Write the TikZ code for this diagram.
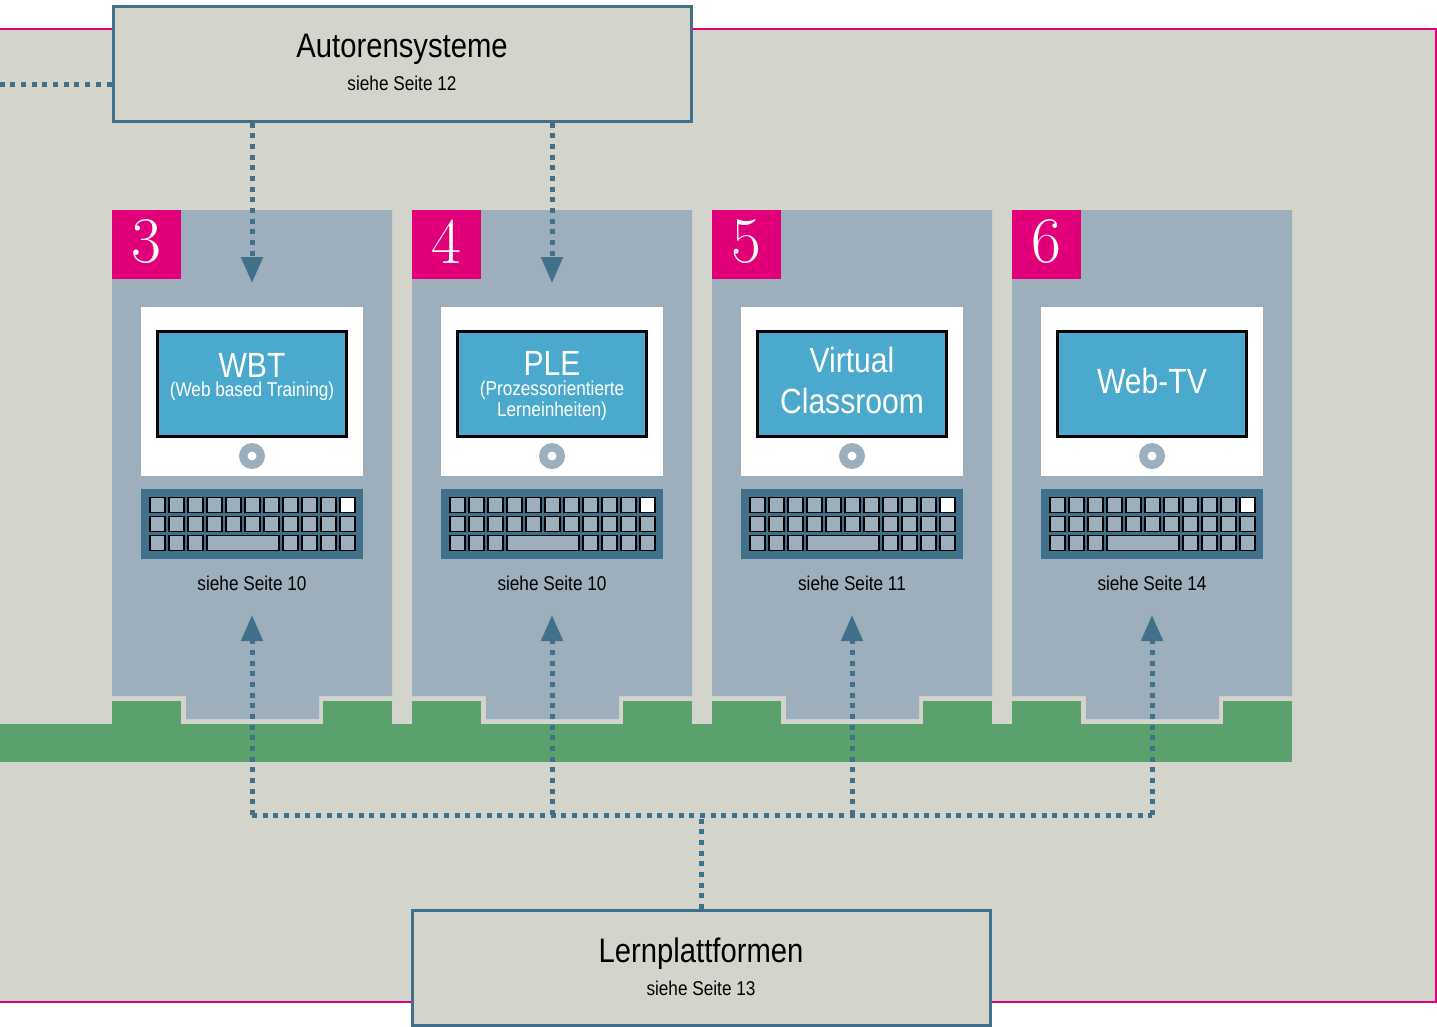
\documentclass[tikz,border=0pt]{standalone}
\usepackage{fontspec}
\setsansfont[FakeStretch=0.86]{Liberation Sans}
\usetikzlibrary{arrows.meta}
\definecolor{bgrey}{HTML}{D3D4CB}
\definecolor{tpink}{HTML}{E2007A}
\definecolor{tblue}{HTML}{41708A}
\definecolor{pgrey}{HTML}{9DAFBD}
\definecolor{scrblue}{HTML}{4AA9CC}
\definecolor{tgreen}{HTML}{5BA16D}
\tikzset{
  bigbox/.style={draw=tblue,line width=3pt,fill=bgrey,minimum width=578pt,minimum height=115pt,inner sep=0pt},
  dotline/.style={draw=tblue,line width=5pt,dash pattern=on 5pt off 5.67pt},
  tip/.style={-{Triangle[width=21pt,length=26pt,color=tblue]}},
  title/.style={font=\sffamily\fontsize{34}{34}\selectfont},
  small/.style={font=\sffamily\fontsize{20}{20}\selectfont},
  scrtitle/.style={font=\sffamily\fontsize{35}{35}\selectfont,text=white,align=center},
  scrsmall/.style={font=\sffamily\fontsize{20}{21}\selectfont,text=white,align=center},
  keycap/.style={draw=black,line width=1.5pt,fill=pgrey},
}
\begin{document}
\begin{tikzpicture}[x=1pt,y=-1pt,line cap=butt,line join=miter]
  \useasboundingbox (0,0) rectangle (1437,1026);
  % frame
  \draw [draw=tpink,line width=2.5pt,fill=bgrey] (-5,29) rectangle (1436,1002);
  % green rail
  \fill [tgreen] (0,724) rectangle (1292,762);
  \foreach \n/\x in {3/0,4/300,5/600,6/900} {
    \begin{scope}[xshift=\x pt]
      \fill [pgrey] (112,210)-- (392,210)-- (392,696)-- (319,696)-- (319,719)-- (186,719)-- (186,696)-- (112,696)-- cycle;
      \fill [tgreen] (112,701) rectangle (181,724);
      \fill [tgreen] (323,701) rectangle (392,724);
      % number
      \fill [tpink] (112,210) rectangle (181,279);
      \node [text=white,font=\rmfamily\fontsize{65}{65}\selectfont] (num\n) at (146.5,242) {\n};
      % monitor
      \fill [white] (141,307) rectangle (363,476);
      \draw [draw=black,line width=3pt,fill=scrblue] (157.5,331.5) rectangle (346.5,436.5);
      \fill [pgrey] (252,456) circle (13pt);
      \fill [white] (252,456) circle (4.5pt);
      % keyboard
      \fill [tblue] (141,489) rectangle (363,559);
      \foreach \c in {0,...,10} {
        \draw [keycap] (150+19*\c,497.5) rectangle (165+19*\c,512.5);
        \draw [keycap] (150+19*\c,516.5) rectangle (165+19*\c,531.5);
      }
      \draw [keycap,fill=white] (340,497.5) rectangle (355,512.5);
      \foreach \c in {0,1,2,7,8,9,10} {
        \draw [keycap] (150+19*\c,535.5) rectangle (165+19*\c,550.5);
      }
      \draw [keycap] (207,535.5) rectangle (279,550.5);
      \coordinate (top\n) at (252,283);
      \coordinate (up\n) at (252,615);
      \coordinate (low\n) at (252,815);
    \end{scope}
  }
  % boxes
  \node [bigbox] (autoren) at (402,63.5) {};
  \node [bigbox] (lern) at (701,968) {};
  \node [title] at (402,49) {Autorensysteme};
  \node [small] at (402,83) {siehe Seite 12};
  \node [title] at (701,954) {Lernplattformen};
  \node [small] at (701,988) {siehe Seite 13};
  % screens
  \node [scrtitle] at (252,365) {WBT};
  \node [scrsmall] at (252,391) {(Web based Training)};
  \node [scrtitle] at (552,363) {PLE};
  \node [scrsmall] at (552,401) {(Prozessorientierte\\Lerneinheiten)};
  \node [scrtitle,font=\sffamily\fontsize{35}{41}\selectfont] at (852,380) {Virtual\\Classroom};
  \node [scrtitle] at (1152,381) {Web-TV};
  \node [small] at (252,583) {siehe Seite 10};
  \node [small] at (552,583) {siehe Seite 10};
  \node [small] at (852,583) {siehe Seite 11};
  \node [small] at (1152,583) {siehe Seite 14};
  % connectors
  \coordinate (leftend) at (0,84.5);
  \coordinate (hub) at (701,815);
  \draw [dotline] (autoren.west |- leftend)-- (leftend);
  \draw [dotline,tip] (autoren.south -| top3)-- (top3);
  \draw [dotline,tip] (autoren.south -| top4)-- (top4);
  \draw [dotline] (lern.north)-- (hub);
  \draw [dotline] (low3)-- (low6);
  \foreach \n in {3,4,5,6} {
    \draw [dotline,tip] (low\n)-- (up\n);
  }
\end{tikzpicture}
\end{document}
